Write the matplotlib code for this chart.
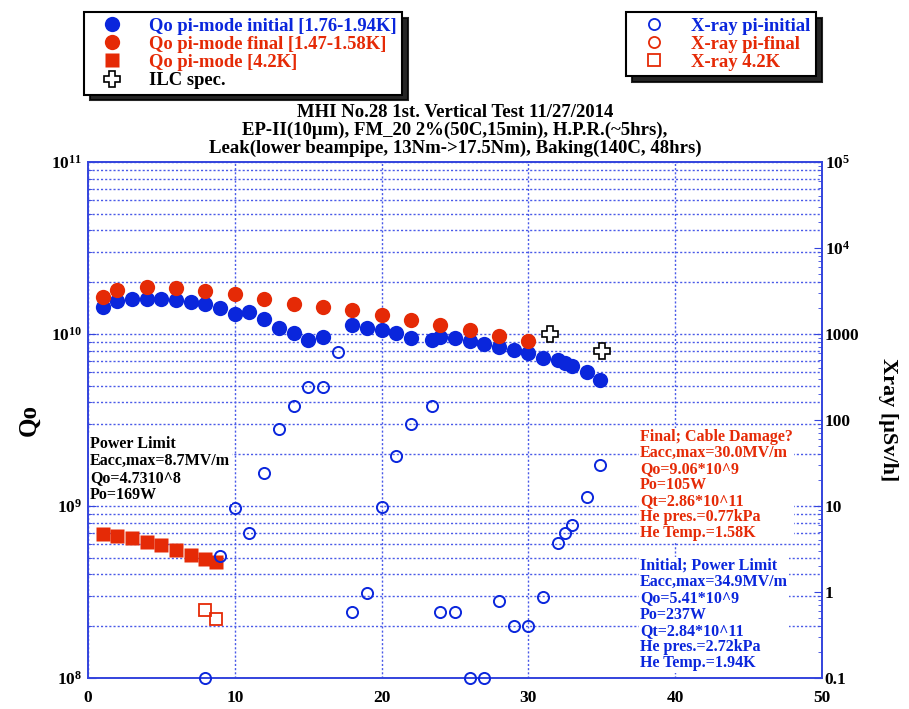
import matplotlib
matplotlib.use("Agg")
import matplotlib.pyplot as plt
from matplotlib.lines import Line2D
from matplotlib.ticker import LogLocator, NullFormatter

plt.rcParams['font.family'] = ['Liberation Serif', 'DejaVu Serif']
plt.rcParams['font.weight'] = 'bold'
plt.rcParams['mathtext.fontset'] = 'custom'
plt.rcParams['mathtext.rm'] = 'Liberation Serif:bold'
plt.rcParams['mathtext.bf'] = 'Liberation Serif:bold'

# ---- data ----
# Qo pi-mode initial [1.76-1.94K]
eacc_init = [1, 2, 3, 4, 5, 6, 7, 8, 9, 10, 11, 12, 13, 14, 15, 16, 18, 19, 20, 21, 22,
             23.4, 24, 25, 26, 27, 28, 29, 30, 31, 32, 32.5, 33, 34, 34.9]
qo_init = [1.44e10, 1.56e10, 1.6e10, 1.6e10, 1.6e10, 1.58e10, 1.54e10, 1.49e10, 1.42e10,
           1.31e10, 1.34e10, 1.22e10, 1.08e10, 1.01e10, 9.2e9, 9.6e9, 1.13e10, 1.09e10,
           1.06e10, 1.01e10, 9.5e9, 9.2e9, 9.6e9, 9.5e9, 9.1e9, 8.8e9, 8.4e9, 8.1e9,
           7.8e9, 7.3e9, 7.06e9, 6.76e9, 6.5e9, 6.0e9, 5.41e9]
# Qo pi-mode final [1.47-1.58K]
eacc_final = [1, 2, 4, 6, 8, 10, 12, 14, 16, 18, 20, 22, 24, 26, 28, 30]
qo_final = [1.65e10, 1.8e10, 1.88e10, 1.84e10, 1.78e10, 1.71e10, 1.59e10, 1.49e10,
            1.43e10, 1.37e10, 1.29e10, 1.21e10, 1.13e10, 1.05e10, 9.7e9, 9.06e9]
# Qo pi-mode [4.2K]
eacc_42 = [1, 2, 3, 4, 5, 6, 7, 8, 8.7]
qo_42 = [6.9e8, 6.7e8, 6.5e8, 6.2e8, 5.9e8, 5.55e8, 5.2e8, 4.9e8, 4.73e8]
# ILC spec
eacc_ilc = [31.5, 35]
qo_ilc = [1.0e10, 8.0e9]
# X-ray pi-initial [uSv/h]
eacc_xi = [8, 9, 10, 11, 12, 13, 14, 15, 16, 17, 18, 19, 20, 21, 22, 23.4, 24, 25, 26,
           27, 28, 29, 30, 31, 32, 32.5, 33, 34, 34.9]
xray_init = [0.1, 2.6, 9.4, 4.9, 24, 78, 147, 240, 240, 612, 0.59, 0.98, 9.8, 38, 89,
             146, 0.59, 0.59, 0.1, 0.1, 0.79, 0.40, 0.40, 0.88, 3.7, 4.8, 6.0, 12.6, 30]
# X-ray pi-final (no readings above background)
eacc_xf = []
xray_final = []
# X-ray 4.2K
eacc_x42 = [8, 8.7]
xray_42 = [0.61, 0.49]

BLUE = '#0a26dc'
RED = '#e52a06'
GRID = '#4a5ae8'
SPINE = '#3344dd'

fig = plt.figure(figsize=(9.09, 7.09), dpi=100)
ax = fig.add_axes([88 / 909, 1 - 678 / 709, (822 - 88) / 909, (678 - 162) / 709])
ax2 = ax.twinx()

ax.set_xlim(0, 50)
ax.set_yscale('log')
ax.set_ylim(1e8, 1e11)
ax2.set_yscale('log')
ax2.set_ylim(0.1, 1e5)

# grid
ax.set_axisbelow(True)
ax.yaxis.set_minor_locator(LogLocator(base=10, subs=range(2, 10)))
ax.grid(which='major', axis='both', color=GRID, linestyle=(0, (1.5, 1.5)), linewidth=1.0)
ax.grid(which='minor', axis='y', color=GRID, linestyle=(0, (1.5, 1.5)), linewidth=1.0)

# Qo markers
ax.plot(eacc_init, qo_init, 'o', color=BLUE, ms=11, mec='none', zorder=3)
ax.plot(eacc_final, qo_final, 'o', color=RED, ms=11, mec='none', zorder=4)
ax.plot(eacc_42, qo_42, 's', color=RED, ms=9.5, mec='none', zorder=3)
ax.plot(eacc_ilc, qo_ilc, 'P', mfc='white', mec='black', mew=1.2, ms=11, zorder=5)

# X-ray markers
ax2.plot(eacc_xi, xray_init, 'o', mfc='none', mec=BLUE, mew=1.4, ms=8, clip_on=False, zorder=3)
ax2.plot(eacc_xf, xray_final, 'o', mfc='none', mec=RED, mew=1.4, ms=8, zorder=3)
ax2.plot(eacc_x42, xray_42, 's', mfc='none', mec=RED, mew=1.3, ms=8, zorder=3)

# ticks
for a in (ax, ax2):
    for s in a.spines.values():
        s.set_color(SPINE)
        s.set_linewidth(1.2)
    a.tick_params(which='both', direction='in', color=SPINE, labelsize=12.5,
                  labelcolor='black')
ax.tick_params(axis='y', which='both', right=False)
ax.set_xticks([0, 10, 20, 30, 40, 50])
ax.set_xticklabels(['0', '10', '20', '30', '40', '50'], fontweight='bold')
ax.tick_params(axis='x', which='major', length=0, pad=9)
ax.set_yticks([1e8, 1e9, 1e10, 1e11])
ax.set_yticklabels([r'$\mathbf{10^{8}}$', r'$\mathbf{10^{9}}$',
                    r'$\mathbf{10^{10}}$', r'$\mathbf{10^{11}}$'])
ax.yaxis.set_minor_formatter(NullFormatter())
ax.tick_params(axis='y', which='major', length=6, pad=4)
ax.tick_params(axis='y', which='minor', length=3)

ax2.set_yticks([0.1, 1, 10, 100, 1000, 1e4, 1e5])
ax2.set_yticklabels(['0.1', '1', '10', '100', '1000',
                     r'$\mathbf{10^{4}}$', r'$\mathbf{10^{5}}$'])
ax2.yaxis.set_minor_locator(LogLocator(base=10, subs=range(2, 10)))
ax2.yaxis.set_minor_formatter(NullFormatter())
ax2.tick_params(axis='y', which='major', length=6, pad=2)
ax2.tick_params(axis='y', which='minor', length=3)

ax.set_ylabel('Qo', fontsize=18, fontweight='bold', labelpad=8)
ax2.set_ylabel('Xray [μSv/h]', fontsize=16, fontweight='bold', rotation=270, labelpad=28)

# title
fig.text(455 / 909, 1 - 104 / 709,
         'MHI No.28 1st. Vertical Test 11/27/2014\n'
         'EP-II(10μm), FM_20 2%(50C,15min), H.P.R.(~5hrs),\n'
         'Leak(lower beampipe, 13Nm->17.5Nm), Baking(140C, 48hrs)',
         ha='center', va='top', fontsize=13.5, fontweight='bold', linespacing=1.06)

# annotations
fig.text(90 / 909, 1 - 436 / 709,
         'Power Limit\nEacc,max=8.7MV/m\nQo=4.7310^8\nPo=169W',
         ha='left', va='top', fontsize=11.5, fontweight='bold', color='black',
         linespacing=1.07, bbox=dict(facecolor='white', edgecolor='none', pad=1))
fig.text(640 / 909, 1 - 429 / 709,
         'Final; Cable Damage?\nEacc,max=30.0MV/m\nQo=9.06*10^9\nPo=105W\n'
         'Qt=2.86*10^11\nHe pres.=0.77kPa\nHe Temp.=1.58K',
         ha='left', va='top', fontsize=11.5, fontweight='bold', color=RED,
         linespacing=1.0, bbox=dict(facecolor='white', edgecolor='none', pad=1))
fig.text(640 / 909, 1 - 558 / 709,
         'Initial; Power Limit\nEacc,max=34.9MV/m\nQo=5.41*10^9\nPo=237W\n'
         'Qt=2.84*10^11\nHe pres.=2.72kPa\nHe Temp.=1.94K',
         ha='left', va='top', fontsize=11.5, fontweight='bold', color=BLUE,
         linespacing=1.02, bbox=dict(facecolor='white', edgecolor='none', pad=1))

# legends
h_left = [
    Line2D([], [], ls='none', marker='o', color=BLUE, ms=11, mec='none'),
    Line2D([], [], ls='none', marker='o', color=RED, ms=11, mec='none'),
    Line2D([], [], ls='none', marker='s', color=RED, ms=9.5, mec='none'),
    Line2D([], [], ls='none', marker='P', mfc='white', mec='black', mew=1.2, ms=11),
]
l_left = ['Qo pi-mode initial [1.76-1.94K]', 'Qo pi-mode final [1.47-1.58K]',
          'Qo pi-mode [4.2K]', 'ILC spec.']
leg1 = fig.legend(h_left, l_left, loc='upper left',
                  bbox_to_anchor=(84 / 909, 1 - 12 / 709), fontsize=13.4,
                  frameon=True, fancybox=False, edgecolor='black',
                  shadow={'color': 'black', 'alpha': 0.85, 'ox': 4, 'oy': -4},
                  borderpad=0.3, labelspacing=0.06, handletextpad=0.8,
                  handlelength=2.4, borderaxespad=0)
leg1.get_frame().set_linewidth(1.5)
for t, c in zip(leg1.get_texts(), [BLUE, RED, RED, 'black']):
    t.set_color(c)
    t.set_fontweight('bold')

h_right = [
    Line2D([], [], ls='none', marker='o', mfc='none', mec=BLUE, mew=1.3, ms=8),
    Line2D([], [], ls='none', marker='o', mfc='none', mec=RED, mew=1.3, ms=8),
    Line2D([], [], ls='none', marker='s', mfc='none', mec=RED, mew=1.3, ms=8),
]
l_right = ['X-ray pi-initial', 'X-ray pi-final', 'X-ray 4.2K']
leg2 = fig.legend(h_right, l_right, loc='upper left',
                  bbox_to_anchor=(626 / 909, 1 - 12 / 709), fontsize=13.4,
                  frameon=True, fancybox=False, edgecolor='black',
                  shadow={'color': 'black', 'alpha': 0.85, 'ox': 4, 'oy': -4},
                  borderpad=0.3, labelspacing=0.06, handletextpad=0.8,
                  handlelength=2.4, borderaxespad=0)
leg2.get_frame().set_linewidth(1.5)
for t, c in zip(leg2.get_texts(), [BLUE, RED, RED]):
    t.set_color(c)
    t.set_fontweight('bold')

fig.savefig('out.png', dpi=100)
